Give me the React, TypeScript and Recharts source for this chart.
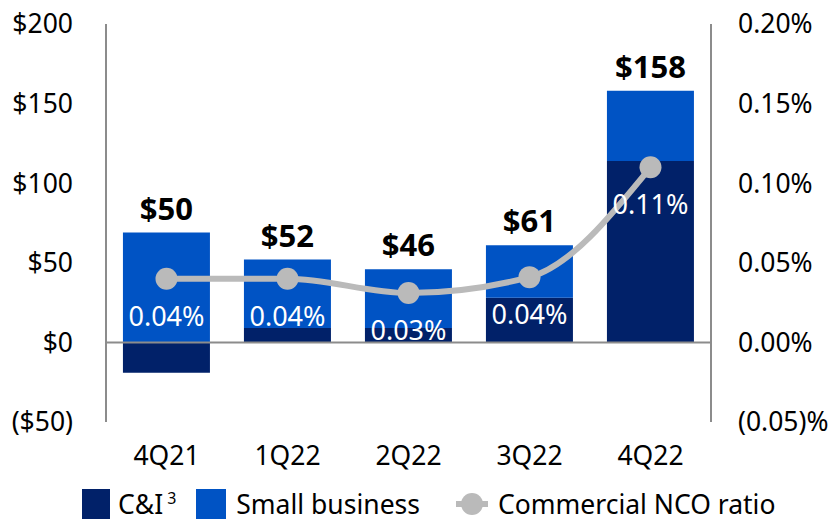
import React from "react";
import {
  ComposedChart,
  Bar,
  Line,
  XAxis,
  YAxis,
  Legend,
  LabelList,
  ReferenceLine,
} from "recharts";

const quarters = ["4Q21", "1Q22", "2Q22", "3Q22", "4Q22"];
const cniValues = [-19, 9, 9, 28, 114];
const smallBusinessValues = [69, 43, 37, 33, 44];
const totalLabels = [50, 52, 46, 61, 158];
const ncoRatio = [0.04, 0.04, 0.031, 0.041, 0.11];

const leftTicks = [-50, 0, 50, 100, 150, 200];
const rightTicks = [-0.05, 0, 0.05, 0.1, 0.15, 0.2];

const NAVY = "#012169";
const BLUE = "#0053c4";
const GRAY = "#bababa";
const AXIS = "#8c8c8c";
const FONT = "'Noto Sans', 'Open Sans', sans-serif";
const TICK_SIZE = 26.5;

const data = quarters.map((q, i) => ({
  quarter: q,
  cni: cniValues[i],
  sb: smallBusinessValues[i],
  total: totalLabels[i],
  ratio: ncoRatio[i],
}));

const fmtDollar = (v: number) => (v < 0 ? `($${Math.abs(v)})` : `$${v}`);
const fmtPct = (v: number) =>
  v < 0 ? `(${Math.abs(v).toFixed(2)})%` : `${v.toFixed(2)}%`;

const TotalLabel = (props: any) => {
  const { x, y, width, index } = props;
  return (
    <text
      x={x + width / 2}
      y={y - 13}
      textAnchor="middle"
      fontFamily={FONT}
      fontWeight={700}
      fontSize={31}
      fill="#000"
    >
      ${totalLabels[index]}
    </text>
  );
};

const RatioLabel = (props: any) => {
  const { x, y, index } = props;
  return (
    <text
      x={x}
      y={y + 47}
      textAnchor="middle"
      fontFamily={FONT}
      fontSize={27}
      fill="#fff"
    >
      {fmtPct(ncoRatio[index])}
    </text>
  );
};

const LegendContent = () => (
  <div
    style={{
      display: "flex",
      alignItems: "center",
      fontFamily: FONT,
      fontSize: TICK_SIZE,
      color: "#000",
      paddingLeft: 82,
      height: 43,
    }}
  >
    <span style={{ width: 28, height: 30, background: NAVY, display: "inline-block" }} />
    <span style={{ marginLeft: 8, marginRight: 20 }}>
      C&amp;I<sup style={{ fontSize: 16, marginLeft: 4 }}>3</sup>
    </span>
    <span style={{ width: 30, height: 30, background: BLUE, display: "inline-block" }} />
    <span style={{ marginLeft: 10, marginRight: 36 }}>Small business</span>
    <svg width={32} height={30}>
      <line x1={0} y1={15} x2={32} y2={15} stroke={GRAY} strokeWidth={6} />
      <circle cx={16} cy={15} r={11} fill={GRAY} />
    </svg>
    <span style={{ marginLeft: 10 }}>Commercial NCO ratio</span>
  </div>
);

export default function App() {
  return (
    <div style={{ position: "absolute", left: 0, top: 0 }}>
      <ComposedChart
        width={837}
        height={525}
        data={data}
        stackOffset="sign"
        barCategoryGap="14%"
        margin={{ top: 24, right: 0, bottom: 0, left: 0 }}
      >
        <XAxis
          dataKey="quarter"
          axisLine={false}
          tickLine={false}
          tickSize={22}
          tickMargin={2}
          height={60}
          tick={{ fontFamily: FONT, fontSize: TICK_SIZE, fill: "#000" }}
        />
        <YAxis
          yAxisId="left"
          domain={[-50, 200]}
          ticks={leftTicks}
          interval={0}
          width={106}
          tickFormatter={fmtDollar}
          axisLine={{ stroke: AXIS, strokeWidth: 2 }}
          tickLine={false}
          tickSize={30}
          tickMargin={3}
          tick={{ fontFamily: FONT, fontSize: TICK_SIZE, fill: "#000" }}
        />
        <YAxis
          yAxisId="right"
          orientation="right"
          domain={[-0.05, 0.2]}
          ticks={rightTicks}
          interval={0}
          width={126}
          tickFormatter={fmtPct}
          axisLine={{ stroke: AXIS, strokeWidth: 2 }}
          tickLine={false}
          tickSize={24}
          tickMargin={3}
          tick={{ fontFamily: FONT, fontSize: TICK_SIZE, fill: "#000" }}
        />
        <ReferenceLine yAxisId="left" y={0} stroke={AXIS} strokeWidth={2} />
        <Bar
          yAxisId="left"
          dataKey="cni"
          stackId="a"
          fill={NAVY}
          isAnimationActive={false}
        />
        <Bar
          yAxisId="left"
          dataKey="sb"
          stackId="a"
          fill={BLUE}
          isAnimationActive={false}
        >
          <LabelList dataKey="total" content={TotalLabel} />
        </Bar>
        <Line
          yAxisId="right"
          type="monotone"
          dataKey="ratio"
          stroke={GRAY}
          strokeWidth={6}
          dot={{ r: 11, fill: GRAY, stroke: "none" }}
          isAnimationActive={false}
        >
          <LabelList dataKey="ratio" content={RatioLabel} />
        </Line>
        <Legend
          verticalAlign="bottom"
          height={43}
          content={<LegendContent />}
        />
      </ComposedChart>
    </div>
  );
}
